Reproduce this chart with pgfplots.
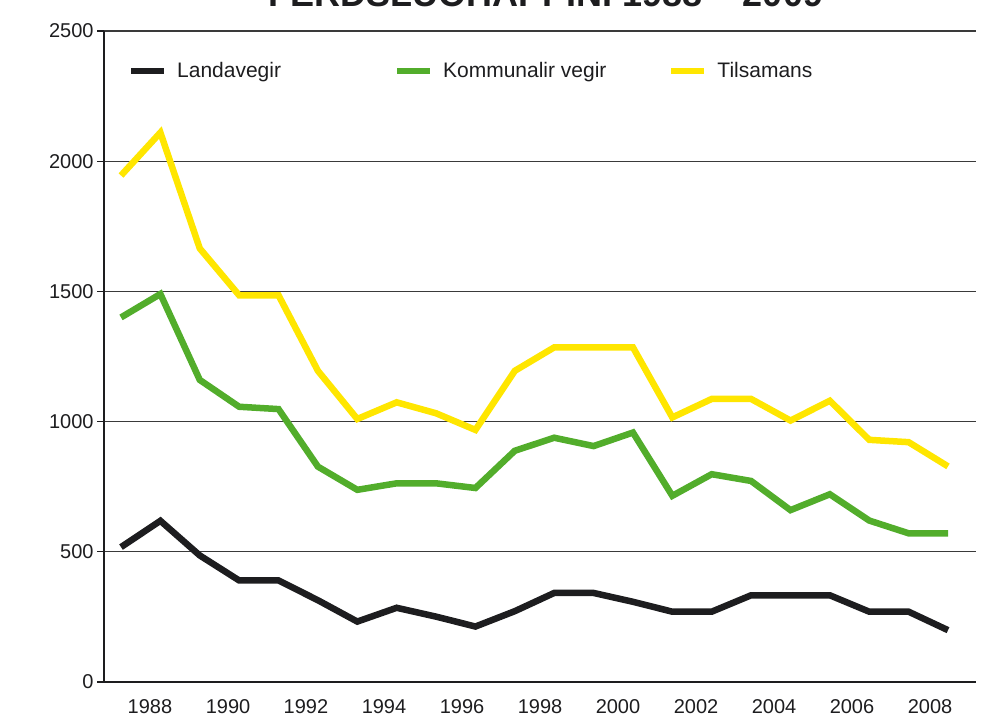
\documentclass[border=0pt]{standalone}
\usepackage{fontspec}
\setmainfont{Liberation Sans}
\usepackage{pgfplots}
\pgfplotsset{compat=1.18}
\definecolor{cblack}{HTML}{1D1D1F}
\definecolor{cgreen}{HTML}{52AD2B}
\definecolor{cyellow}{HTML}{FFE600}
\definecolor{cgrid}{HTML}{3A3A3A}
\begin{document}
\begin{tikzpicture}
\begin{axis}[name=ax, scale only axis, width=872bp, height=651bp,
  xmin=1987.568, xmax=2009.711, ymin=0, ymax=2500,
  axis lines=left,
  x axis line style={-, line width=2.2bp, draw=cblack},
  y axis line style={-, line width=2.2bp, draw=cblack},
  ytick={0,500,1000,1500,2000,2500},
  ymajorgrids, grid style={draw=cgrid, line width=1.1bp},
  xtick={1988.736,1990.717,1992.697,1994.678,1996.659,1998.640,2000.620,2002.601,2004.582,2006.562,2008.543},
  xticklabels={1988,1990,1992,1994,1996,1998,2000,2002,2004,2006,2008},
  xtick style={draw=none},
  ytick style={draw=cblack, line width=1.2bp},
  tick align=outside, major tick length=7bp,
  tick label style={font=\fontsize{20bp}{24bp}\selectfont, text=cblack},
  xticklabel style={yshift=-7bp},
  /pgf/number format/assume math mode=true,
  /pgf/number format/1000 sep={},
  legend columns=3,
  legend style={at={(0.0275,0.9386)}, anchor=west, draw=none, fill=none, inner sep=0pt,
    font=\fontsize{21bp}{25bp}\selectfont, text=cblack,
    nodes={inner sep=0pt},
    /tikz/every odd column/.append style={column sep=10bp},
    /tikz/column 2/.append style={column sep=113bp},
    /tikz/column 4/.append style={column sep=62bp}},
  legend image code/.code={\draw[#1, line width=6bp, line cap=butt] (0bp,0bp) -- (33bp,0bp);},
]
\addplot[cblack, line width=6.5bp, line join=miter] coordinates {
(1988,518) (1989,619) (1990,486) (1991,390) (1992,390) (1993,314) (1994,232) (1995,285)
(1996,251) (1997,213) (1998,272) (1999,342) (2000,342) (2001,308) (2002,270) (2003,270)
(2004,333) (2005,333) (2006,333) (2007,270) (2008,270) (2009,199)};
\addlegendentry{Landavegir}
\addplot[cgreen, line width=6.5bp, line join=miter] coordinates {
(1988,1400) (1989,1490) (1990,1160) (1991,1057) (1992,1048) (1993,827) (1994,738) (1995,763)
(1996,763) (1997,745) (1998,888) (1999,938) (2000,906) (2001,958) (2002,715) (2003,798)
(2004,772) (2005,660) (2006,721) (2007,620) (2008,571) (2009,571)};
\addlegendentry{Kommunalir vegir}
\addplot[cyellow, line width=6.5bp, line join=miter] coordinates {
(1988,1945) (1989,2110) (1990,1665) (1991,1485) (1992,1485) (1993,1195) (1994,1010) (1995,1074)
(1996,1032) (1997,968) (1998,1195) (1999,1285) (2000,1285) (2001,1285) (2002,1016) (2003,1087)
(2004,1087) (2005,1004) (2006,1080) (2007,930) (2008,921) (2009,828)};
\addlegendentry{Tilsamans}
\end{axis}
\node[anchor=base, font=\fontsize{36bp}{40bp}\selectfont\bfseries, text=cblack]
  at ([xshift=442bp,yshift=24bp]ax.north west) {FERÐSLUÓHAPPINI 1988 – 2009};
\pgfresetboundingbox
\useasboundingbox ([xshift=-104bp,yshift=-35bp]ax.south west) rectangle ([xshift=22bp,yshift=31bp]ax.north east);
\end{tikzpicture}
\end{document}
